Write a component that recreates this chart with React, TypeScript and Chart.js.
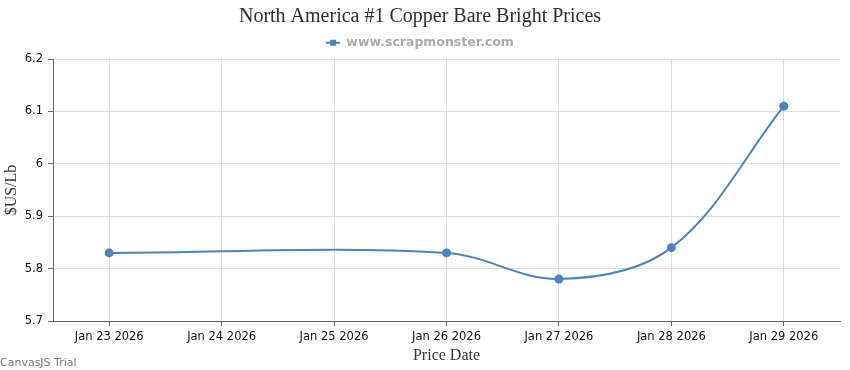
import React, { useEffect, useRef } from "react";
import { Chart, registerables } from "chart.js";

Chart.register(...registerables);

const chartTitle = "North America #1 Copper Bare Bright Prices";
const seriesName = "www.scrapmonster.com";
const dates = [
  "Jan 23 2026",
  "Jan 24 2026",
  "Jan 25 2026",
  "Jan 26 2026",
  "Jan 27 2026",
  "Jan 28 2026",
  "Jan 29 2026",
];
const prices: (number | null)[] = [5.83, null, null, 5.83, 5.78, 5.84, 6.11];
const yMin = 5.7;
const yMax = 6.2;
const yStep = 0.1;
const yTitle = "$US/Lb";
const xTitle = "Price Date";
const watermark = "CanvasJS Trial";

const LINE = "#4f81bc";
const TICK_FONT = { family: "'DejaVu Sans', sans-serif", size: 11.5 };
const SERIF = "'Liberation Serif', 'Times New Roman', serif";

function makeLegendMarker(): HTMLCanvasElement {
  const c = document.createElement("canvas");
  c.width = 14;
  c.height = 8;
  const ctx = c.getContext("2d")!;
  ctx.strokeStyle = LINE;
  ctx.lineWidth = 2;
  ctx.beginPath();
  ctx.moveTo(0, 4);
  ctx.lineTo(14, 4);
  ctx.stroke();
  ctx.fillStyle = LINE;
  ctx.fillRect(4, 1, 6, 6);
  return c;
}

const watermarkPlugin = {
  id: "watermark",
  afterDraw(chart: any) {
    const ctx = chart.ctx;
    ctx.save();
    ctx.font = "11px 'DejaVu Sans', sans-serif";
    ctx.fillStyle = "#777";
    ctx.textAlign = "left";
    ctx.textBaseline = "middle";
    ctx.fillText(watermark, 0, 363);
    ctx.restore();
  },
};

export default function App() {
  const ref = useRef<HTMLCanvasElement>(null);
  useEffect(() => {
    if (!ref.current) return;
    const marker = makeLegendMarker();
    const chart = new Chart(ref.current, {
      type: "line",
      data: {
        labels: dates,
        datasets: [
          {
            label: seriesName,
            data: prices,
            borderColor: LINE,
            backgroundColor: LINE,
            borderWidth: 2,
            pointRadius: 4.5,
            pointBorderWidth: 0,
            pointBackgroundColor: LINE,
            tension: 0.35,
            spanGaps: true,
            fill: false,
          },
        ],
      },
      options: {
        responsive: false,
        animation: false,
        layout: { padding: { left: 0, right: 10, top: 0, bottom: 0 } },
        plugins: {
          title: {
            display: true,
            text: chartTitle,
            color: "#2e2e2e",
            font: { family: SERIF, size: 20, weight: "normal" },
            padding: { top: 5, bottom: 0 },
          },
          legend: {
            display: true,
            labels: {
              usePointStyle: true,
              pointStyle: marker,
              pointStyleWidth: 14,
              color: "#aaaaaa",
              font: { family: "'DejaVu Sans', sans-serif", size: 12.5, weight: "bold" },
              padding: 7.5,
            },
          },
          tooltip: { enabled: false },
        },
        scales: {
          x: {
            type: "category",
            offset: true,
            grid: {
              offset: false,
              color: "#dddddd",
              tickColor: "#666",
              tickLength: 5,
            },
            border: { color: "#666", width: 1 },
            ticks: { color: "#111", font: TICK_FONT, padding: 4, maxRotation: 0, autoSkip: false },
            title: {
              display: true,
              text: xTitle,
              color: "#333",
              font: { family: SERIF, size: 16 },
              padding: { top: 0, bottom: 5 },
            },
            afterFit(scale: any) {
              scale.height = 49;
            },
          },
          y: {
            min: yMin,
            max: yMax,
            grid: { color: "#dddddd", tickColor: "#666", tickLength: 5 },
            border: { color: "#666", width: 1 },
            ticks: {
              stepSize: yStep,
              color: "#111",
              font: TICK_FONT,
              padding: 5,
              callback: (v: any) => String(+Number(v).toFixed(1)),
            },
            title: {
              display: true,
              text: yTitle,
              color: "#333",
              font: { family: SERIF, size: 16 },
              padding: { top: 2, bottom: 0 },
            },
            afterFit(scale: any) {
              scale.width = 53;
            },
          },
        },
      },
      plugins: [watermarkPlugin],
    });
    return () => chart.destroy();
  }, []);
  return (
    <div style={{ position: "absolute", left: 0, top: 0, width: 850, height: 370, background: "#fff" }}>
      <canvas ref={ref} width={850} height={370} />
    </div>
  );
}
